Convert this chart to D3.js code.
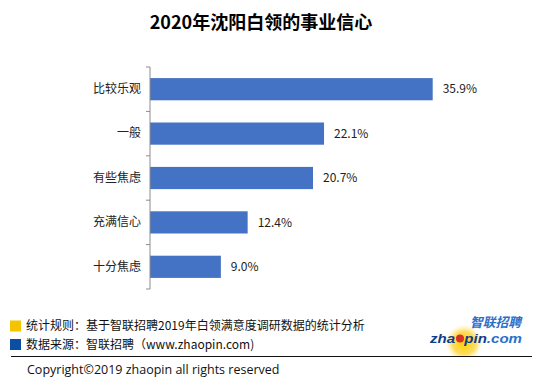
<!DOCTYPE html>
<html>
<head>
<meta charset="utf-8">
<script src="https://cdn.jsdelivr.net/npm/d3@7"></script>
<style>
  body { margin: 0; background: #fff; }
  svg { display: block; font-family: "Noto Sans CJK SC", "Microsoft YaHei", sans-serif; }
</style>
</head>
<body>
<script>
// data
const title = "2020年沈阳白领的事业信心";
const categories = ["比较乐观", "一般", "有些焦虑", "充满信心", "十分焦虑"];
const values = [35.9, 22.1, 20.7, 12.4, 9.0];
const notes = ["统计规则：基于智联招聘2019年白领满意度调研数据的统计分析", "数据来源：智联招聘（www.zhaopin.com)"];
const noteColors = ["#f5c400", "#0b4ea2"];
const copyright = "Copyright©2019 zhaopin all rights reserved";

const W = 541, H = 385;
const svg = d3.select("body").append("svg")
    .attr("width", W)
    .attr("height", H);

const margin = { top: 67, left: 150 },
    height = 222;

let x = d3.scaleLinear()
    .domain([0, 35.9])
    .range([0, 282.7]);

let y = d3.scaleBand()
    .domain(categories)
    .range([0, height])
    .paddingInner(0.5)
    .paddingOuter(0.25);

svg.append("text")
    .attr("x", 261)
    .attr("y", 29)
    .attr("text-anchor", "middle")
    .attr("font-size", 18)
    .attr("font-weight", "bold")
    .attr("fill", "#000")
    .text(title);

let g = svg.append("g").attr("transform", "translate(" + margin.left + "," + margin.top + ")");

let data = categories.map((c, i) => ({ cat: c, val: values[i] }));

g.selectAll(".bar")
    .data(data)
    .enter().append("rect")
    .attr("class", "bar")
    .attr("x", 0)
    .attr("y", d => y(d.cat))
    .attr("width", d => x(d.val))
    .attr("height", y.bandwidth())
    .attr("fill", "#4472c4");

g.selectAll(".val")
    .data(data)
    .enter().append("text")
    .attr("class", "val")
    .attr("x", d => x(d.val) + 10)
    .attr("y", d => y(d.cat) + y.bandwidth() / 2)
    .attr("dy", "0.35em")
    .attr("font-size", 12)
    .attr("fill", "#222")
    .text(d => d.val.toFixed(1) + "%");

// category labels via axis, ticks drawn at band edges below
let yAxis = g.append("g")
    .call(d3.axisLeft(y).tickSize(0).tickPadding(9));
yAxis.select(".domain").remove();
yAxis.selectAll("text")
    .attr("font-size", 12)
    .attr("font-family", "Noto Sans CJK SC, sans-serif")
    .attr("fill", "#222");

g.append("line")
    .attr("x1", 0).attr("x2", 0)
    .attr("y1", 0).attr("y2", height)
    .attr("stroke", "#8c8c8c");

let edges = [0].concat(categories.map(c => y(c) + y.bandwidth() + y.step() * 0.25));
g.selectAll(".tk")
    .data(edges)
    .enter().append("line")
    .attr("x1", -4).attr("x2", 0)
    .attr("y1", d => d).attr("y2", d => d)
    .attr("stroke", "#8c8c8c");

// footer notes
notes.forEach((n, i) => {
    let yy = 326 + i * 18.5;
    svg.append("rect")
        .attr("x", 10).attr("y", yy - 5.5)
        .attr("width", 11).attr("height", 11)
        .attr("fill", noteColors[i]);
    svg.append("text")
        .attr("x", 26).attr("y", yy)
        .attr("dy", "0.35em")
        .attr("font-size", 12)
        .attr("fill", "#111")
        .text(n);
});

// logo
let defs = svg.append("defs");
let rg = defs.append("radialGradient").attr("id", "glow");
rg.append("stop").attr("offset", "0%").attr("stop-color", "#ffd200");
rg.append("stop").attr("offset", "60%").attr("stop-color", "#ffd84a").attr("stop-opacity", 0.9);
rg.append("stop").attr("offset", "100%").attr("stop-color", "#fff3b0").attr("stop-opacity", 0);
svg.append("circle")
    .attr("cx", 464).attr("cy", 343).attr("r", 19)
    .attr("fill", "url(#glow)");
svg.append("rect").attr("x", 440).attr("y", 357).attr("width", 60).attr("height", 28).attr("fill", "#fff");

svg.append("text")
    .attr("x", 470).attr("y", 327)
    .attr("font-size", 13)
    .attr("font-weight", "bold")
    .attr("font-style", "italic")
    .attr("fill", "#2a6fc9")
    .attr("textLength", 51)
    .attr("lengthAdjust", "spacingAndGlyphs")
    .text("智联招聘");

let logo = svg.append("text")
    .attr("x", 430).attr("y", 343)
    .attr("font-family", "Liberation Sans, Arial, sans-serif")
    .attr("font-size", 13)
    .attr("font-weight", "bold")
    .attr("font-style", "italic")
    .attr("textLength", 92)
    .attr("lengthAdjust", "spacingAndGlyphs");
logo.append("tspan").attr("fill", "#0d3c8c").text("zha");
logo.append("tspan").attr("fill", "#0d3c8c").attr("fill-opacity", 0).text("o");
logo.append("tspan").attr("fill", "#0d3c8c").text("pin");
logo.append("tspan").attr("fill", "#2a6fc9").text(".com");
svg.append("circle")
    .attr("cx", 460).attr("cy", 338.5).attr("r", 4)
    .attr("fill", "#d8312a");

svg.append("line")
    .attr("x1", 11).attr("x2", 532)
    .attr("y1", 356.5).attr("y2", 356.5)
    .attr("stroke", "#111")
    .attr("stroke-width", 1.2);

svg.append("text")
    .attr("x", 27).attr("y", 370)
    .attr("dy", "0.35em")
    .attr("font-family", "Open Sans, sans-serif")
    .attr("font-size", 12.5)
    .attr("fill", "#111")
    .text(copyright);
</script>
</body>
</html>
